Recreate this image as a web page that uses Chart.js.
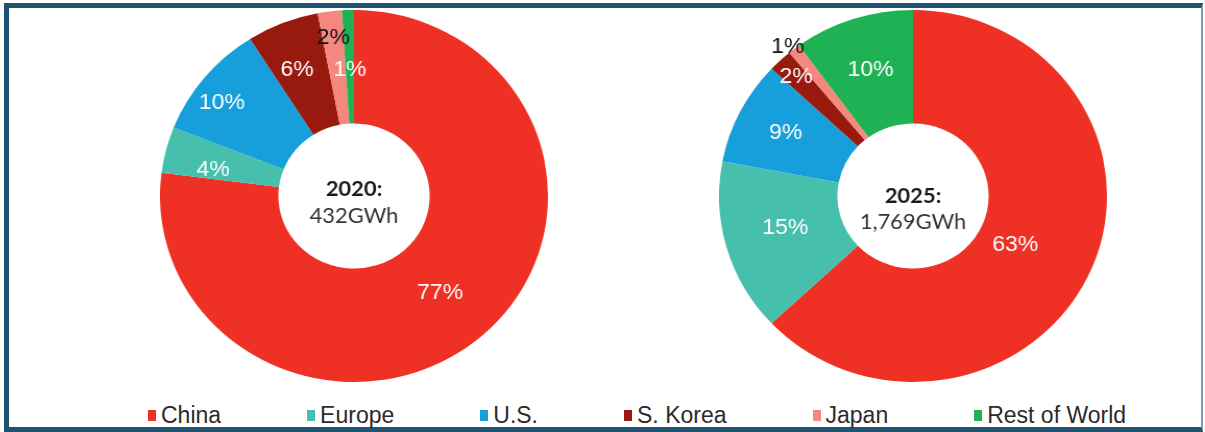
<!DOCTYPE html>
<html>
<head>
<meta charset="utf-8">
<script src="https://cdn.jsdelivr.net/npm/chart.js@4.4.1/dist/chart.umd.min.js"></script>
<style>
  html, body { margin: 0; padding: 0; background: #fff; }
  body { width: 1205px; height: 432px; position: relative; overflow: hidden; }
  .frame {
    position: absolute; left: 4px; top: 3px; width: 1192px; height: 419px;
    border-style: solid; border-width: 5px 2px 5px 5px;
    border-color: #1f5371 #7a9cae #1f5371 #1f5371;
  }
  .pie { position: absolute; top: 10px; transform: scaleX(1.043); }
  #pie2020 { left: 168px; }
  #pie2025 { left: 727px; }
  .legend {
    position: absolute; left: 148px; top: 402px; display: flex; gap: 86px;
    font: 23px "Liberation Sans", Arial, sans-serif; color: #2b2b2b;
  }
  .legend span { display: flex; align-items: center; white-space: nowrap; }
  .legend i { display: inline-block; width: 8px; height: 11px; margin-right: 5px; }
</style>
</head>
<body>
<div class="frame"></div>
<canvas id="pie2020" class="pie" width="372" height="372"></canvas>
<canvas id="pie2025" class="pie" width="372" height="372"></canvas>
<div class="legend" id="legend"></div>
<script>
const regions = ["China", "Europe", "U.S.", "S. Korea", "Japan", "Rest of World"];
const share2020 = [77, 4, 10, 6, 2, 1];
const share2025 = [63, 15, 9, 2, 1, 10];
const years = ["2020:", "2025:"];
const totals = ["432GWh", "1,769GWh"];

const COLORS = ["#ee3124", "#46bfad", "#179fdb", "#981a0f", "#f4877e", "#1fb254"];

// % label placement: fraction of outer radius, plus a small turn (degrees) off the slice middle
const radii2020 = [0.685, 0.74, 0.845, 0.74, 0.855, 0.68];
const turn2020 = [1, -3.5, -3.3, -1.8, 0, 0];
const radii2025 = [0.59, 0.68, 0.74, 0.88, 1.03, 0.71];
const turn2025 = [3.2, 1.6, 0.5, 0, -1, 0];
const textColors = ["#fff", "#fff", "#fff", "#fff", "#111", "#fff"];

const sliceLabels = {
  id: "sliceLabels",
  afterDatasetsDraw(chart, args, opts) {
    const ctx = chart.ctx;
    const meta = chart.getDatasetMeta(0);
    const values = chart.data.datasets[0].data;
    ctx.save();
    ctx.textAlign = "center";
    ctx.textBaseline = "middle";
    ctx.font = '22px "Liberation Sans", Arial, sans-serif';
    meta.data.forEach((arc, i) => {
      const p = arc.getProps(["x", "y", "startAngle", "endAngle", "outerRadius"], true);
      const mid = (p.startAngle + p.endAngle) / 2 + opts.turn[i] * Math.PI / 180;
      const r = p.outerRadius * opts.radii[i];
      ctx.fillStyle = textColors[i];
      ctx.fillText(values[i] + "%", p.x + Math.cos(mid) * r, p.y + Math.sin(mid) * r);
    });

    // year and total in the hole
    const cx = meta.data[0].x, cy = meta.data[0].y;
    ctx.fillStyle = "#1a1a1a";
    ctx.font = 'bold 21px Lato, "Open Sans", sans-serif';
    ctx.fillText(opts.year, cx, cy + opts.yearDy);
    ctx.fillStyle = "#333";
    ctx.font = '21px Lato, "Open Sans", sans-serif';
    ctx.fillText(opts.total, cx, cy + opts.totalDy);
    ctx.restore();
  }
};

function makePie(id, values, idx, radii, turn, yearDy, totalDy) {
  return new Chart(document.getElementById(id), {
    type: "doughnut",
    data: {
      labels: regions,
      datasets: [{
        data: values,
        backgroundColor: COLORS,
        borderWidth: 0,
      }],
    },
    options: {
      responsive: false,
      animation: false,
      cutout: "39%",
      layout: { padding: 0 },
      plugins: {
        legend: { display: false },
        tooltip: { enabled: false },
        sliceLabels: { radii: radii, turn: turn, year: years[idx], total: totals[idx], yearDy: yearDy, totalDy: totalDy },
      },
    },
    plugins: [sliceLabels],
  });
}

makePie("pie2020", share2020, 0, radii2020, turn2020, -7, 20);
makePie("pie2025", share2025, 1, radii2025, turn2025, 0, 26);

// shared legend under both charts
const legend = document.getElementById("legend");
regions.forEach((name, i) => {
  const item = document.createElement("span");
  const box = document.createElement("i");
  box.style.background = COLORS[i];
  item.appendChild(box);
  item.appendChild(document.createTextNode(name));
  legend.appendChild(item);
});
</script>
</body>
</html>
